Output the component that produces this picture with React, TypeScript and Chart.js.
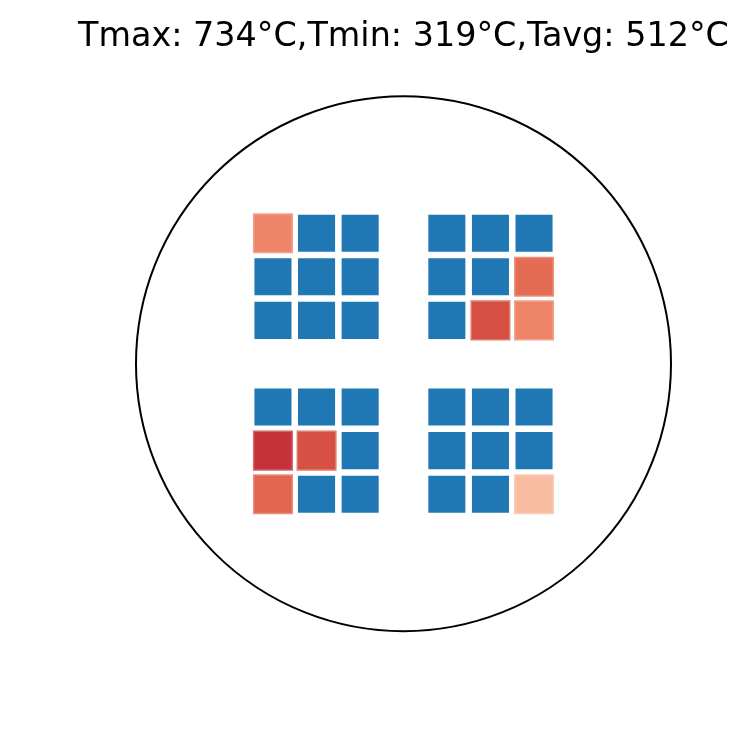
import React, { useEffect, useRef } from "react";
import { Chart, registerables } from "chart.js";

Chart.register(...registerables);

// Wafer radius (arbitrary units)
const waferRadius = 100;
// Die group centres (x, y) and in-group die pitch
const groupCentersX = [-32.5, 32.5, -32.5, 32.5];
const groupCentersY = [32.5, 32.5, -32.5, -32.5];
const diePitch = 16.3;
// Temperatures per die (°C), group order TL, TR, BL, BR; each row-major top->bottom; null = not measured
const groupTL = [425, null, null, null, null, null, null, null, null];
const groupTR = [null, null, null, null, null, 510, null, 587, 425];
const groupBL = [null, null, null, 734, 587, null, 530, null, null];
const groupBR = [null, null, null, null, null, null, null, null, 319];
const groups = [groupTL, groupTR, groupBL, groupBR];

const titleText = "Tmax: 734°C,Tmin: 319°C,Tavg: 512°C";

// colour stops (value -> rgb)
const colorStops: [number, number[]][] = [
  [319, [248, 188, 160]],
  [425, [238, 132, 104]],
  [515, [227, 107, 84]],
  [590, [213, 80, 66]],
  [734, [197, 50, 56]],
];
const missingColor = "#1f77b4";

function colorFor(v: number, alpha = 1) {
  let c = colorStops[colorStops.length - 1][1];
  for (let i = 0; i < colorStops.length - 1; i++) {
    const [v0, c0] = colorStops[i];
    const [v1, c1] = colorStops[i + 1];
    if (v >= v0 && v <= v1) {
      const t = (v - v0) / (v1 - v0);
      c = c0.map((x, k) => x + (c1[k] - x) * t);
      break;
    }
  }
  return `rgba(${Math.round(c[0])},${Math.round(c[1])},${Math.round(c[2])},${alpha})`;
}

const waferPlugin = {
  id: "wafer",
  afterDatasetsDraw(chart: any) {
    const { ctx, scales } = chart;
    const cx = scales.x.getPixelForValue(0);
    const cy = scales.y.getPixelForValue(0);
    const r = scales.x.getPixelForValue(waferRadius) - cx;
    ctx.save();
    ctx.beginPath();
    ctx.arc(cx, cy, r, 0, Math.PI * 2);
    ctx.lineWidth = 2;
    ctx.strokeStyle = "#000";
    ctx.stroke();
    // title, centred over the wafer
    ctx.font = '33.4px "DejaVu Sans"';
    ctx.fillStyle = "#000";
    ctx.textAlign = "center";
    ctx.textBaseline = "alphabetic";
    ctx.fillText(titleText, cx, 45.7);
    ctx.restore();
  },
};

export default function App() {
  const ref = useRef<HTMLCanvasElement>(null);
  useEffect(() => {
    document.body.style.margin = "0";
    const blue: any[] = [];
    const red: any[] = [];
    const redVals: number[] = [];
    groups.forEach((g, gi) => {
      g.forEach((v, i) => {
        const row = Math.floor(i / 3);
        const col = i % 3;
        const pt = {
          x: groupCentersX[gi] + (col - 1) * diePitch,
          y: groupCentersY[gi] - (row - 1) * diePitch,
        };
        if (v === null) blue.push(pt);
        else {
          red.push(pt);
          redVals.push(v);
        }
      });
    });
    const chart = new Chart(ref.current!, {
      type: "scatter",
      data: {
        datasets: [
          {
            data: blue,
            pointStyle: "rect",
            pointRadius: 26.2,
            pointHoverRadius: 26.2,
            backgroundColor: missingColor,
            borderWidth: 0,
          },
          {
            data: red,
            pointStyle: "rect",
            pointRadius: 26.2,
            pointHoverRadius: 26.2,
            backgroundColor: redVals.map((v) => colorFor(v)),
            borderColor: redVals.map((v) => colorFor(v, 0.75)),
            borderWidth: 3,
          },
        ],
      },
      options: {
        animation: false,
        responsive: false,
        events: [],
        layout: { padding: { left: 136, right: 79, top: 96.2, bottom: 102.8 } },
        scales: {
          x: { type: "linear", min: -waferRadius, max: waferRadius, display: false },
          y: { type: "linear", min: -waferRadius, max: waferRadius, display: false },
        },
        plugins: {
          legend: { display: false },
          tooltip: { enabled: false },
          title: { display: false },
        },
      },
      plugins: [waferPlugin],
    });
    return () => chart.destroy();
  }, []);
  return (
    <div style={{ width: 750, height: 734 }}>
      <canvas ref={ref} width={750} height={734} style={{ width: 750, height: 734 }} />
    </div>
  );
}
